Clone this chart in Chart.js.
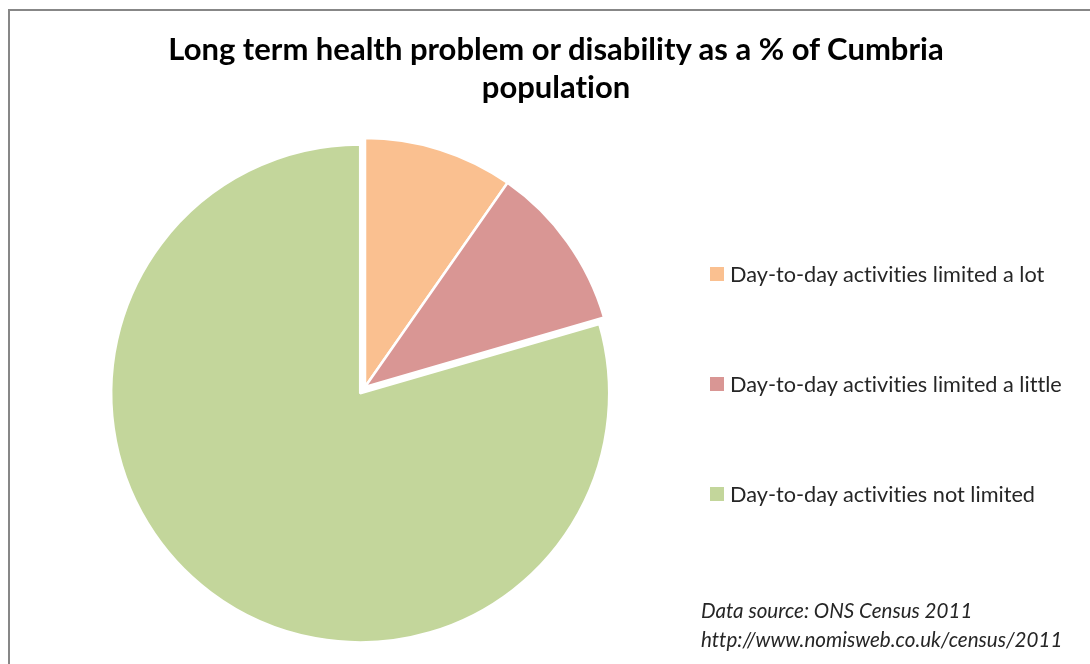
<!DOCTYPE html>
<html>
<head>
<meta charset="utf-8">
<script src="https://cdn.jsdelivr.net/npm/chart.js@4.4.1/dist/chart.umd.min.js"></script>
<style>
  html, body { margin: 0; padding: 0; background: #fff; }
  #wrap { position: relative; width: 1090px; height: 664px; overflow: hidden; font-family: Lato, "Open Sans", sans-serif; color: #000; font-variant-ligatures: none; font-feature-settings: "liga" 0; }
  #frame { position: absolute; left: 8px; top: 9px; right: -10px; bottom: -10px; border-left: 2px solid #878787; border-top: 2px solid #878787; }
  #c { position: absolute; left: 0; top: 0; }
  .title { position: absolute; left: 0; width: 1112px; text-align: center; font-weight: 700; font-size: 31px; line-height: 38px; white-space: nowrap; }
  #legend { position: absolute; left: 710px; top: 0; }
  .item { position: absolute; left: 0; white-space: nowrap; font-size: 21.7px; line-height: 24px; color: #262626; }
  .sw { position: absolute; left: 0; width: 14px; height: 14px; }
  .lt { position: absolute; left: 20px; top: -12px; }
  .src { position: absolute; left: 701px; font-style: italic; font-size: 20.6px; line-height: 24px; white-space: nowrap; color: #262626; }
</style>
</head>
<body>
<div id="wrap">
  <div id="frame"></div>
  <canvas id="c" width="1090" height="664"></canvas>
  <div class="title" style="top:29px">Long term health problem or disability as a % of Cumbria</div>
  <div class="title" style="top:67px">population</div>
  <div id="legend"></div>
  <div class="src" style="top:598px">Data source: ONS Census 2011</div>
  <div class="src" style="top:627px">http://www.nomisweb.co.uk/census/2011</div>
</div>
<script>
// Share of residents by how much a long-term condition limits daily life
const categories = [
  'Day-to-day activities limited a lot',
  'Day-to-day activities limited a little',
  'Day-to-day activities not limited'
];
const percentages = [9.7, 10.8, 79.5];
const colours = ['#FAC090', '#D99694', '#C3D69B'];
// How far each slice is pulled out from the centre (px)
const explodeBy = [0, 0, 8];

// Legend entries
const legend = document.getElementById('legend');
const rowCentres = [274, 384, 494];
categories.forEach((name, i) => {
  const row = document.createElement('div');
  row.className = 'item';
  row.style.top = rowCentres[i] + 'px';
  row.innerHTML = '<div class="sw" style="top:-7px;background:' + colours[i] + '"></div>' +
                  '<div class="lt"></div>';
  row.querySelector('.lt').textContent = name;
  legend.appendChild(row);
});

// Draws each arc shifted along its mid-angle
const explodePlugin = {
  id: 'explodeSlices',
  beforeDatasetDraw(chart, args) {
    const ctx = chart.ctx;
    args.meta.data.forEach((arc, i) => {
      const mid = (arc.startAngle + arc.endAngle) / 2;
      const d = explodeBy[i] || 0;
      ctx.save();
      ctx.translate(Math.cos(mid) * d, Math.sin(mid) * d);
      arc.draw(ctx);
      ctx.restore();
    });
    return false;
  }
};

new Chart(document.getElementById('c'), {
  type: 'pie',
  data: {
    labels: categories,
    datasets: [{
      data: percentages,
      backgroundColor: colours,
      borderColor: '#ffffff',
      borderWidth: 2.5
    }]
  },
  options: {
    responsive: false,
    animation: false,
    radius: 249,
    layout: { padding: { left: 105, right: 465, top: 127, bottom: 17 } },
    plugins: {
      legend: { display: false },
      title: { display: false },
      tooltip: { enabled: false }
    }
  },
  plugins: [explodePlugin]
});
</script>
</body>
</html>
